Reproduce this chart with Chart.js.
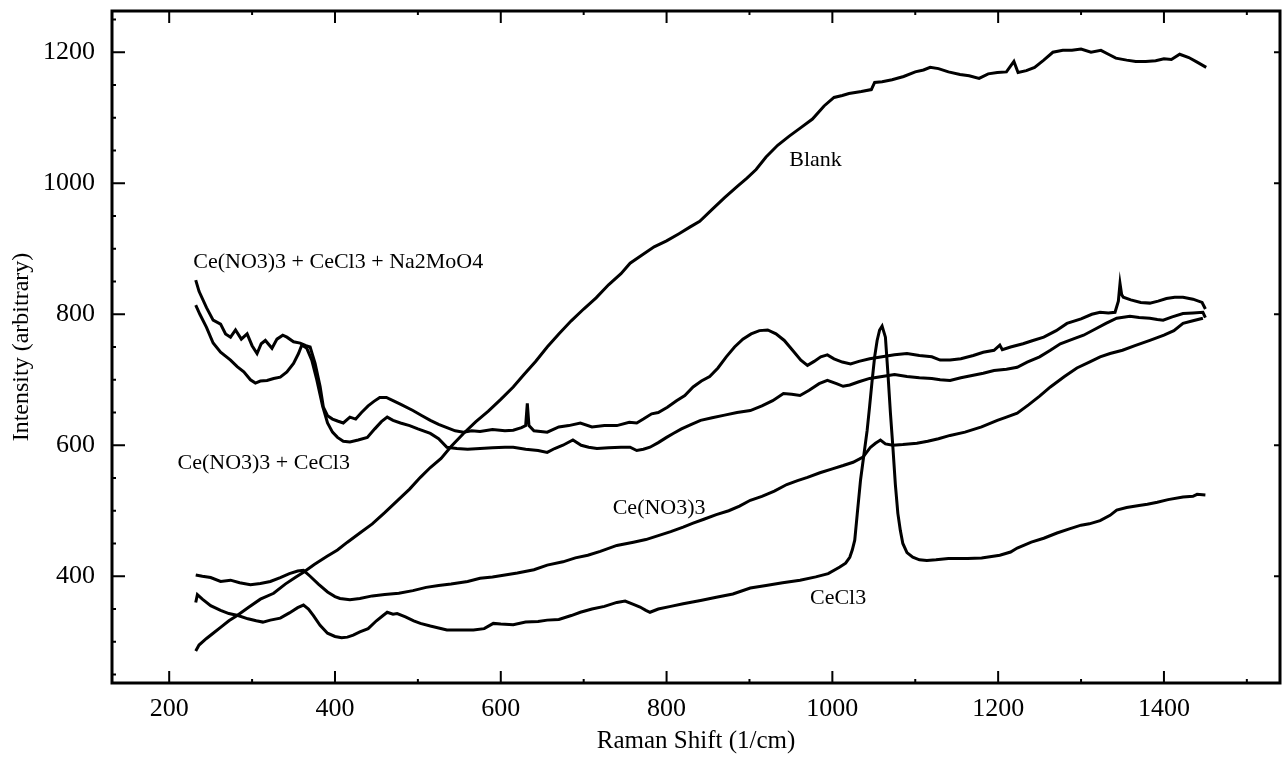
<!DOCTYPE html>
<html>
<head>
<meta charset="utf-8">
<script src="https://cdn.jsdelivr.net/npm/chart.js@4/dist/chart.umd.min.js"></script>
<style>
  body { margin: 0; background: #fff; }
  #wrap { width: 1283px; height: 764px; }
</style>
</head>
<body>
<div id="wrap"><canvas id="myChart" width="1283" height="764"></canvas></div>
<script>
//axis ranges and tick labels
var xMin = 131, xMax = 1540;
var yMin = 237, yMax = 1263;
var xTickValues = [200, 400, 600, 800, 1000, 1200, 1400];
var yTickValues = [400, 600, 800, 1000, 1200];

//Ce(NO3)3 + CeCl3 + Na2MoO4
var mixMoX = [232,236,245,253,262,268,274,280,287,294,300,306,311,316,324,330,337,342,350,358,365,370,376,382,386,391,397,403,410,418,425,432,440,447,454,462,470,480,494,505,515,525,535,545,555,565,575,590,605,615,625,630,632,634,640,656,670,682,696,710,725,740,755,764,772,782,790,801,812,822,832,842,852,862,872,882,892,902,912,922,932,942,952,962,970,978,986,994,1002,1012,1022,1032,1045,1060,1075,1090,1105,1120,1130,1142,1155,1170,1182,1195,1202,1205,1215,1230,1242,1255,1270,1283,1300,1313,1323,1333,1341,1345,1347,1349,1351,1360,1372,1383,1393,1403,1413,1423,1435,1446,1450];
var mixMoY = [852,835,810,791,785,770,765,776,762,770,752,740,755,760,748,762,768,765,758,756,752,750,725,690,658,645,640,637,634,643,640,650,660,667,673,673,668,662,653,645,638,632,627,622,620,622,621,624,622,623,627,630,664,630,622,620,628,630,634,628,630,630,635,634,640,648,650,658,668,676,689,698,705,718,735,750,762,770,775,776,770,760,745,730,722,728,735,738,732,727,724,728,732,735,738,740,737,735,730,730,732,737,742,745,753,746,750,755,760,765,775,786,793,800,803,802,803,820,847,830,826,822,818,817,820,824,826,826,823,818,808];

//Ce(NO3)3 + CeCl3
var mixX = [232,237,245,253,262,274,282,290,298,304,310,318,326,334,342,350,356,360,366,372,378,385,391,397,403,410,418,428,439,448,456,463,470,479,490,500,515,525,535,547,560,575,590,605,615,630,645,656,665,675,687,697,706,716,730,745,756,764,772,780,790,800,808,818,830,841,855,870,885,901,915,928,941,951,961,972,984,994,1005,1013,1021,1032,1045,1060,1075,1090,1105,1120,1130,1142,1155,1170,1182,1195,1210,1223,1235,1250,1263,1275,1290,1303,1315,1330,1343,1359,1370,1383,1392,1399,1410,1423,1435,1447,1450];
var mixY = [814,800,780,756,742,730,720,712,700,695,698,699,702,704,712,725,740,753,748,730,700,660,634,620,612,606,605,608,612,625,636,643,638,634,630,625,618,610,597,595,594,595,596,597,597,594,592,589,595,600,608,600,597,595,596,597,597,592,594,597,604,612,618,625,632,638,642,646,650,653,660,668,679,678,676,684,694,699,694,690,692,697,702,705,708,705,703,702,700,699,703,707,710,714,716,719,727,735,745,755,762,768,776,786,794,797,795,794,792,791,796,801,802,803,795];

//Ce(NO3)3
var nitrateX = [232,240,250,262,274,285,298,310,322,334,345,355,362,370,380,391,400,406,418,430,445,460,477,494,510,525,540,560,575,590,605,620,640,656,675,690,705,720,740,760,775,790,805,820,832,845,860,875,888,901,915,930,945,958,970,985,1000,1013,1025,1037,1046,1052,1058,1064,1073,1085,1102,1115,1128,1142,1160,1180,1199,1210,1223,1237,1250,1263,1280,1295,1310,1323,1335,1350,1365,1383,1400,1412,1423,1435,1447];
var nitrateY = [402,400,398,392,394,390,387,389,392,398,404,408,409,400,388,376,369,366,364,366,370,372,374,378,383,386,388,392,397,399,402,405,410,417,422,428,432,438,447,452,456,462,468,475,481,487,494,500,507,516,522,530,540,546,551,558,564,569,574,582,597,603,608,602,600,601,603,606,610,615,620,628,638,643,649,662,675,689,705,718,727,735,740,745,752,760,768,775,786,790,794];

//CeCl3
var chlorideX = [232,234,240,250,262,272,283,295,305,313,322,334,345,355,362,368,374,382,391,400,408,415,422,430,440,450,458,463,470,475,485,495,503,515,525,535,550,567,580,591,600,615,630,645,656,670,685,696,710,725,740,750,760,768,775,780,790,805,820,841,860,880,901,920,940,961,980,995,1009,1016,1021,1024,1027,1030,1034,1038,1042,1045,1048,1051,1054,1057,1060,1064,1067,1070,1073,1076,1079,1082,1085,1090,1097,1105,1114,1125,1140,1163,1180,1202,1215,1223,1240,1255,1271,1285,1300,1310,1323,1335,1343,1355,1370,1380,1392,1405,1423,1435,1440,1450];
var chlorideY = [360,372,365,355,348,343,340,335,332,330,333,336,344,352,356,350,340,325,313,308,306,307,310,315,320,332,340,345,342,343,338,332,328,324,321,318,318,318,320,328,327,326,330,331,333,334,340,345,350,354,360,362,357,353,348,345,350,354,358,363,368,373,382,386,390,394,399,404,414,420,429,440,455,495,547,585,623,660,699,735,760,776,782,765,710,650,597,540,496,470,450,436,429,425,424,425,427,427,428,432,437,443,452,458,466,472,478,480,485,493,501,505,508,510,513,517,521,522,525,524];

//Blank
var blankX = [232,236,245,253,262,272,282,295,310,326,340,352,362,375,390,403,415,430,445,460,475,490,503,515,528,540,555,570,585,600,615,628,642,656,670,685,700,715,730,745,756,770,785,800,815,828,840,855,870,885,897,908,920,934,948,962,976,990,1002,1012,1020,1035,1047,1051,1060,1072,1086,1100,1110,1118,1128,1140,1154,1165,1177,1188,1199,1210,1219,1224,1234,1244,1255,1266,1278,1289,1300,1312,1324,1333,1342,1355,1366,1378,1390,1400,1409,1419,1430,1440,1451];
var blankY = [286,295,305,313,322,332,340,352,365,374,388,398,406,418,430,440,452,466,480,497,515,533,551,566,580,598,618,636,652,670,689,708,728,750,770,790,808,825,845,862,878,890,903,912,923,933,942,960,978,995,1008,1021,1040,1058,1072,1085,1098,1118,1131,1134,1137,1140,1143,1154,1155,1158,1163,1170,1173,1177,1175,1170,1166,1164,1160,1167,1169,1170,1186,1169,1172,1177,1188,1200,1203,1203,1205,1200,1203,1197,1191,1188,1186,1186,1187,1190,1189,1197,1192,1185,1177];

//curve labels (text, x value, y value)
var labelTexts = ['Ce(NO3)3 + CeCl3 + Na2MoO4', 'Ce(NO3)3 + CeCl3', 'Blank', 'Ce(NO3)3', 'CeCl3'];
var labelXs = [229, 210, 948, 735, 973];
var labelYs = [879, 573, 1035, 504, 366];

var serif = '"Liberation Serif", "DejaVu Serif", serif';

//pair up x and y lists
function toPoints(xs, ys){
	var pts = [];
	for(var i = 0; i < xs.length; i++)
	{
		pts.push({x: xs[i], y: ys[i]});
	}
	return pts;
}

function lineSet(name, xs, ys){
	return {
		label: name,
		data: toPoints(xs, ys),
		borderColor: '#000',
		borderWidth: 3,
		pointRadius: 0,
		tension: 0,
		fill: false
	};
}

//frame, inward ticks and curve labels
var framePlugin = {
	id: 'frame',
	afterDraw: function(chart){
		var ctx = chart.ctx;
		var a = chart.chartArea;
		var xs = chart.scales.x;
		var ys = chart.scales.y;
		ctx.save();
		ctx.strokeStyle = '#000';
		ctx.lineWidth = 3;
		ctx.strokeRect(a.left, a.top, a.right - a.left, a.bottom - a.top);

		ctx.lineWidth = 2;
		ctx.beginPath();
		for(var v = 100; v < xMax; v += 100)
		{
			if(v < xMin) continue;
			var px = xs.getPixelForValue(v);
			var major = (v % 200 == 0);
			var len = major ? 12 : 4;
			ctx.moveTo(px, a.bottom);
			ctx.lineTo(px, a.bottom - len);
			ctx.moveTo(px, a.top);
			ctx.lineTo(px, a.top + len);
		}
		for(var w = 250; w < yMax; w += 50)
		{
			var py = ys.getPixelForValue(w);
			var maj = (w % 200 == 0);
			ctx.moveTo(a.left, py);
			ctx.lineTo(a.left + (maj ? 13 : 4), py);
			if(maj)
			{
				ctx.moveTo(a.right, py);
				ctx.lineTo(a.right - 6, py);
			}
		}
		ctx.stroke();

		ctx.fillStyle = '#000';
		ctx.font = '22px ' + serif;
		ctx.textAlign = 'left';
		ctx.textBaseline = 'middle';
		for(var i = 0; i < labelTexts.length; i++)
		{
			ctx.fillText(labelTexts[i], xs.getPixelForValue(labelXs[i]), ys.getPixelForValue(labelYs[i]));
		}
		ctx.restore();
	}
};

function plainLabel(value){
	return String(value);
}

var ctx = document.getElementById('myChart');

var myChart = new Chart(ctx, {
	type: 'line',
	data: {
		datasets: [
			lineSet('Ce(NO3)3 + CeCl3 + Na2MoO4', mixMoX, mixMoY),
			lineSet('Ce(NO3)3 + CeCl3', mixX, mixY),
			lineSet('Ce(NO3)3', nitrateX, nitrateY),
			lineSet('CeCl3', chlorideX, chlorideY),
			lineSet('Blank', blankX, blankY)
		]
	},
	options: {
		responsive: false,
		animation: false,
		layout: { padding: { top: 11, right: 3, left: 0, bottom: 0 } },
		plugins: {
			legend: { display: false },
			tooltip: { enabled: false }
		},
		scales: {
			x: {
				type: 'linear',
				min: xMin,
				max: xMax,
				afterFit: function(scale){
					scale.height = 81;
					scale.paddingLeft = 0;
					scale.paddingRight = 0;
				},
				grid: { display: false, drawTicks: false },
				border: { display: false },
				afterBuildTicks: function(scale){
					scale.ticks = xTickValues.map(function(v){ return {value: v}; });
				},
				ticks: {
					padding: 11,
					color: '#000',
					maxRotation: 0,
					callback: plainLabel,
					font: { family: serif, size: 26 }
				},
				title: {
					display: true,
					text: 'Raman Shift (1/cm)',
					color: '#000',
					font: { family: serif, size: 25 },
					padding: { top: 0, bottom: 8 }
				}
			},
			y: {
				type: 'linear',
				min: yMin,
				max: yMax,
				afterFit: function(scale){
					scale.width = 112;
					scale.paddingTop = 0;
					scale.paddingBottom = 0;
				},
				grid: { display: false, drawTicks: false },
				border: { display: false },
				afterBuildTicks: function(scale){
					scale.ticks = yTickValues.map(function(v){ return {value: v}; });
				},
				ticks: {
					padding: 17,
					color: '#000',
					callback: plainLabel,
					font: { family: serif, size: 26 }
				},
				title: {
					display: true,
					text: 'Intensity (arbitrary)',
					color: '#000',
					font: { family: serif, size: 24 },
					padding: { top: 7, bottom: 0 }
				}
			}
		}
	},
	plugins: [framePlugin]
});
</script>
</body>
</html>
